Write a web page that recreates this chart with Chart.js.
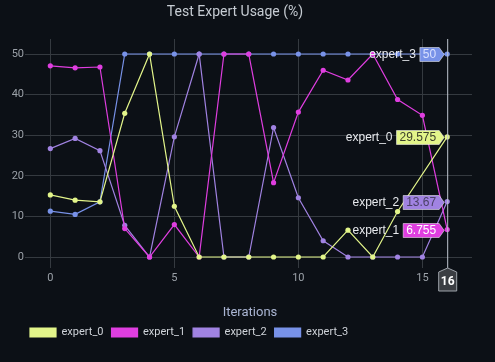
<!DOCTYPE html>
<html>
<head>
<meta charset="utf-8">
<script src="https://cdn.jsdelivr.net/npm/chart.js@4"></script>
<style>
  html, body { margin: 0; padding: 0; background: #0c1016; }
  #wrap { width: 495px; height: 362px; position: relative; }
</style>
</head>
<body>
<div id="wrap"><canvas id="usageChart"></canvas></div>
<script>
// iterations 0..16, usage in % per expert (null = no point logged)
const iterations = [0, 1, 2, 3, 4, 5, 6, 7, 8, 9, 10, 11, 12, 13, 14, 15, 16];
const expert0 = [15.3, 14.0, 13.6, 35.4, 50, 12.5, 0, 0, 0, 0, 0, 0, 6.6, 0, 11.2, null, 29.575];
const expert1 = [47.1, 46.6, 46.8, 7.0, 0, 8.0, 0, 50, 50, 18.3, 35.7, 46.0, 43.6, 50, 38.8, 34.9, 6.755];
const expert2 = [26.7, 29.2, 26.2, 7.8, 0, 29.6, 50, 0, 0, 31.9, 14.6, 4.0, 0, 0, 0, 0, 13.67];
const expert3 = [11.3, 10.5, 13.6, 50, 50, 50, 50, 50, 50, 50, 50, 50, 50, 50, 50, 50, 50];
const seriesNames = ['expert_0', 'expert_1', 'expert_2', 'expert_3'];
const xTicks = [0, 5, 10, 15];
const hoverIteration = 16;

const colors = ['#e3f58a', '#e03ee0', '#a183e2', '#7892e8'];
const badgeText = ['#3c3f2c', '#ffffff', '#4b4166', '#d8e0ff'];

const toPoints = arr => arr.map((v, i) => ({ x: iterations[i], y: v }));

// crosshair + hover badges at the last iteration
const hoverPlugin = {
    id: 'hoverPlugin',
    afterDatasetsDraw(chart) {
        const { ctx, scales: { x, y }, chartArea } = chart;
        const px = x.getPixelForValue(hoverIteration);
        const idx = iterations.indexOf(hoverIteration);

        ctx.save();
        ctx.strokeStyle = '#bfc5cf';
        ctx.lineWidth = 1;
        ctx.beginPath();
        ctx.moveTo(px + 0.5, chartArea.top);
        ctx.lineTo(px + 0.5, chartArea.bottom + 6);
        ctx.stroke();

        // x badge
        const bt = chartArea.bottom + 6, bw = 18;
        ctx.beginPath();
        ctx.moveTo(px + 0.5, bt);
        ctx.lineTo(px + 0.5 + bw / 2, bt + 4);
        ctx.lineTo(px + 0.5 + bw / 2, bt + 23);
        ctx.lineTo(px + 0.5 - bw / 2, bt + 23);
        ctx.lineTo(px + 0.5 - bw / 2, bt + 4);
        ctx.closePath();
        ctx.fillStyle = '#3b3e43';
        ctx.fill();
        ctx.strokeStyle = '#9ea3aa';
        ctx.stroke();
        ctx.fillStyle = '#ffffff';
        ctx.font = 'bold 12px Roboto';
        ctx.textAlign = 'center';
        ctx.textBaseline = 'middle';
        ctx.fillText(String(hoverIteration), px + 0.5, bt + 14);

        // series badges
        chart.data.datasets.forEach((ds, i) => {
            const v = ds.data[idx].y;
            const py = Math.round(y.getPixelForValue(v)) + 0.5;
            ctx.font = '12px "Liberation Sans"';
            const label = String(v);
            const tw = ctx.measureText(label).width;
            const tip = px - 3;
            const right = tip - 5;
            const left = right - tw - 6;
            const h = 14;
            ctx.beginPath();
            ctx.moveTo(left, py - h / 2);
            ctx.lineTo(right, py - h / 2);
            ctx.lineTo(tip, py);
            ctx.lineTo(right, py + h / 2);
            ctx.lineTo(left, py + h / 2);
            ctx.closePath();
            ctx.fillStyle = colors[i];
            ctx.fill();
            ctx.strokeStyle = 'rgba(255,255,255,0.5)';
            ctx.stroke();
            ctx.fillStyle = badgeText[i];
            ctx.textAlign = 'left';
            ctx.fillText(label, left + 3, py + 0.5);
            ctx.fillStyle = '#e8eaee';
            ctx.textAlign = 'right';
            ctx.fillText(ds.label, left - 4, py + 0.5);
        });
        ctx.restore();
    }
};

// chart title above the plot, and legend nudged to line up with the reference
const framePlugin = {
    id: 'framePlugin',
    afterLayout(chart) {
        chart.legend.left -= 6;
        chart.legend.right -= 6;
    },
    afterDraw(chart) {
        const { ctx } = chart;
        ctx.save();
        ctx.fillStyle = '#c6ccd3';
        ctx.font = '14px Roboto';
        ctx.textAlign = 'center';
        ctx.textBaseline = 'middle';
        ctx.fillText('Test Expert Usage (%)', 235, 12);
        ctx.restore();
    }
};

const ctx = document.getElementById('usageChart').getContext('2d');

new Chart(ctx, {
    type: 'line',
    data: {
        datasets: [expert0, expert1, expert2, expert3].map((arr, i) => ({
            label: seriesNames[i],
            data: toPoints(arr),
            borderColor: colors[i],
            backgroundColor: colors[i],
            borderWidth: 1.2,
            pointRadius: 2.6,
            pointBorderWidth: 0,
            pointBackgroundColor: colors[i],
            spanGaps: true,
            tension: 0
        }))
    },
    options: {
        responsive: true,
        maintainAspectRatio: false,
        animation: false,
        events: [],
        layout: {
            padding: { top: 39, left: 0, right: 23, bottom: 14 }
        },
        plugins: {
            title: { display: false },
            tooltip: { enabled: false },
            legend: {
                position: 'bottom',
                align: 'start',
                fullSize: false,
                labels: {
                    color: '#cfd3d9',
                    boxWidth: 26,
                    boxHeight: 9,
                    padding: 8,
                    font: { family: 'Roboto', size: 11 }
                }
            }
        },
        scales: {
            x: {
                type: 'linear',
                min: -0.9,
                max: 17,
                afterFit: s => { s.height = 57; },
                ticks: {
                    stepSize: 5,
                    includeBounds: false,
                    color: '#9ba1a8',
                    padding: 4,
                    maxRotation: 0,
                    font: { family: 'Roboto', size: 11 },
                    callback: v => xTicks.includes(v) ? String(v) : ''
                },
                grid: { color: '#353a40', tickLength: 6, drawTicks: true },
                border: { display: false },
                title: {
                    display: true,
                    text: 'Iterations',
                    color: '#aab5d3',
                    font: { family: 'Roboto', size: 13, lineHeight: 1 },
                    padding: { top: 0, bottom: 0 }
                }
            },
            y: {
                min: -1.23,
                max: 53.7,
                afterFit: s => { s.width = 28; },
                ticks: {
                    stepSize: 10,
                    includeBounds: false,
                    color: '#9ba1a8',
                    padding: 1,
                    font: { family: 'Roboto', size: 11 }
                },
                grid: { color: '#353a40', tickLength: 3 },
                border: { display: false }
            }
        }
    },
    plugins: [hoverPlugin, framePlugin]
});
</script>
</body>
</html>
